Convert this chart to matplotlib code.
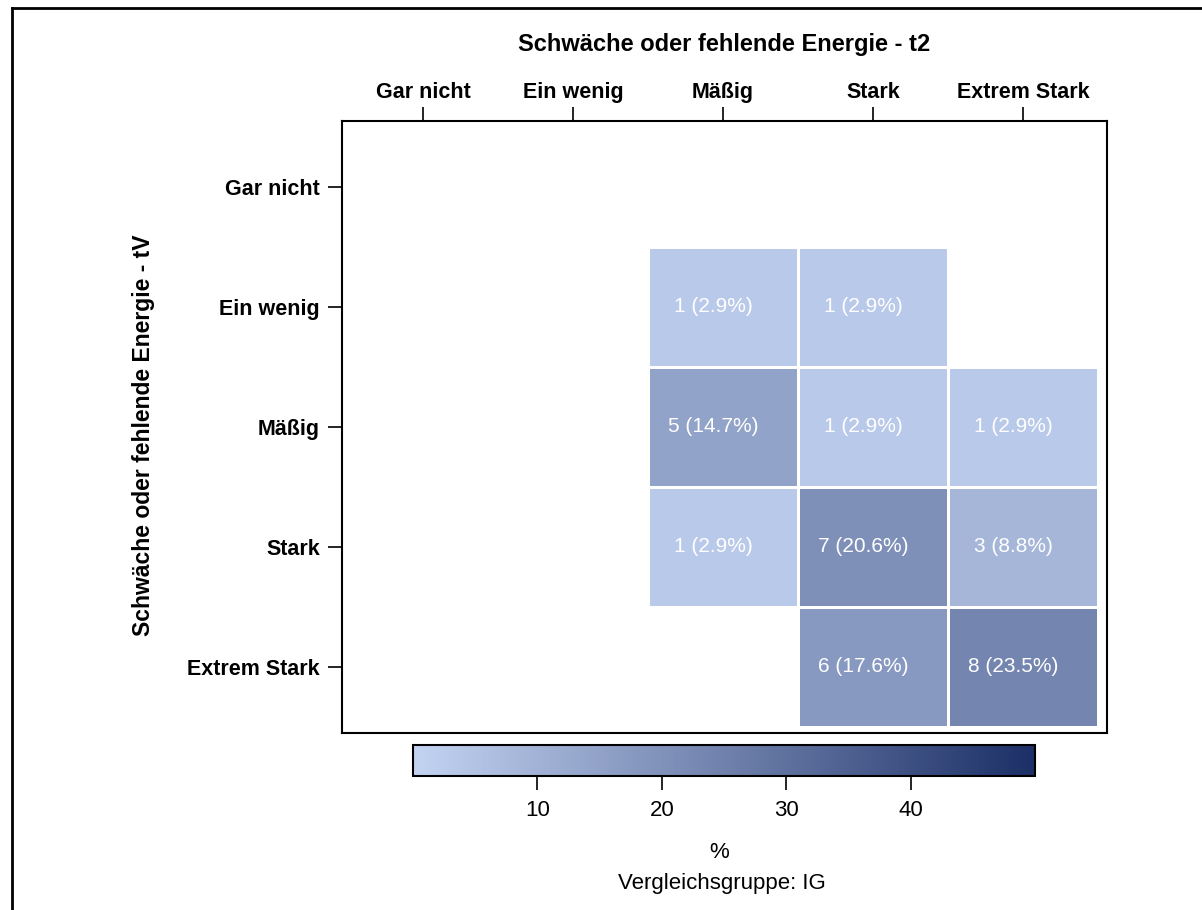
import numpy as np
import matplotlib
matplotlib.use("Agg")
import matplotlib.pyplot as plt
from matplotlib.colors import LinearSegmentedColormap, Normalize
from matplotlib.lines import Line2D
import matplotlib.cm as cm

plt.rcParams['font.family'] = ['Liberation Sans', 'DejaVu Sans']

levels = ["Gar nicht", "Ein wenig", "Mäßig", "Stark", "Extrem Stark"]
x_title = "Schwäche oder fehlende Energie - t2"
y_title = "Schwäche oder fehlende Energie - tV"
group_label = "Vergleichsgruppe: IG"

# counts[row = tV level][col = t2 level]; 0 means no observation
counts = np.array([
    [0, 0, 0, 0, 0],
    [0, 0, 1, 1, 0],
    [0, 0, 5, 1, 1],
    [0, 0, 1, 7, 3],
    [0, 0, 0, 6, 8],
])
total = counts.sum()
pct = counts / total * 100

cmap = LinearSegmentedColormap.from_list("blues_sas", ["#c3d3f2", "#1c2f66"])
norm = Normalize(vmin=0, vmax=50)

W, H = 1202, 910
fig = plt.figure(figsize=(W / 100, H / 100), dpi=100)

def fx(px):
    return px / W

def fy(py):
    return 1 - py / H

ax = fig.add_axes([fx(342), fy(733), fx(1107) - fx(342), fy(121) - fy(733)])

masked = np.ma.masked_where(counts == 0, pct)
edges = np.arange(6) - 0.5
ax.pcolormesh(edges, edges, masked, cmap=cmap, norm=norm,
              edgecolors="white", linewidth=1.0)

for r in range(5):
    for c in range(5):
        if counts[r, c] > 0:
            ax.annotate(f"{counts[r, c]} ({pct[r, c]:.1f}%)", (c, r),
                        xytext=(-7, 0), textcoords="offset points",
                        ha="center", va="center", color="white", fontsize=15)

ax.set_xlim(-0.54, 4.56)
ax.set_ylim(4.55, -0.55)
ax.xaxis.tick_top()
ax.xaxis.set_label_position("top")
ax.set_xticks(range(5))
ax.set_xticklabels(levels, fontweight="bold", fontsize=15.5)
ax.set_yticks(range(5))
ax.set_yticklabels(levels, fontweight="bold", fontsize=15.5)
ax.tick_params(axis="both", length=10, width=1.2, pad=6)
ax.tick_params(axis="x", pad=3)
ax.set_xlabel(x_title, fontweight="bold", fontsize=17, va="center")
ax.xaxis.set_label_coords(0.5, (733 - 45) / (733 - 121))
ax.set_ylabel(y_title, fontweight="bold", fontsize=16.5, va="center")
ax.yaxis.set_label_coords(-(342 - 143) / (1107 - 342), 0.5 + (427 - 435) / (733 - 121))
for s in ax.spines.values():
    s.set_linewidth(1.5)

cax = fig.add_axes([fx(413), fy(776), fx(1035) - fx(413), fy(745) - fy(776)])
sm = cm.ScalarMappable(norm=norm, cmap=cmap)
cb = fig.colorbar(sm, cax=cax, orientation="horizontal", ticks=[10, 20, 30, 40])
cb.outline.set_linewidth(1.5)
cax.tick_params(length=10, width=1.2, labelsize=16, pad=7)
cb.set_label("%", fontsize=16, va="center")
cax.xaxis.set_label_coords((719 - 413) / (1035 - 413), -(852 - 776) / (776 - 745))

fig.text(fx(722), fy(883), group_label, ha="center", va="center", fontsize=16)

# outer frame (left and top edges)
fig.add_artist(Line2D([fx(11.5), fx(11.5)], [0, fy(7.5)], color="black", lw=2))
fig.add_artist(Line2D([fx(11.5), 1], [fy(7.5), fy(7.5)], color="black", lw=2))

fig.savefig("out.png", dpi=100)
